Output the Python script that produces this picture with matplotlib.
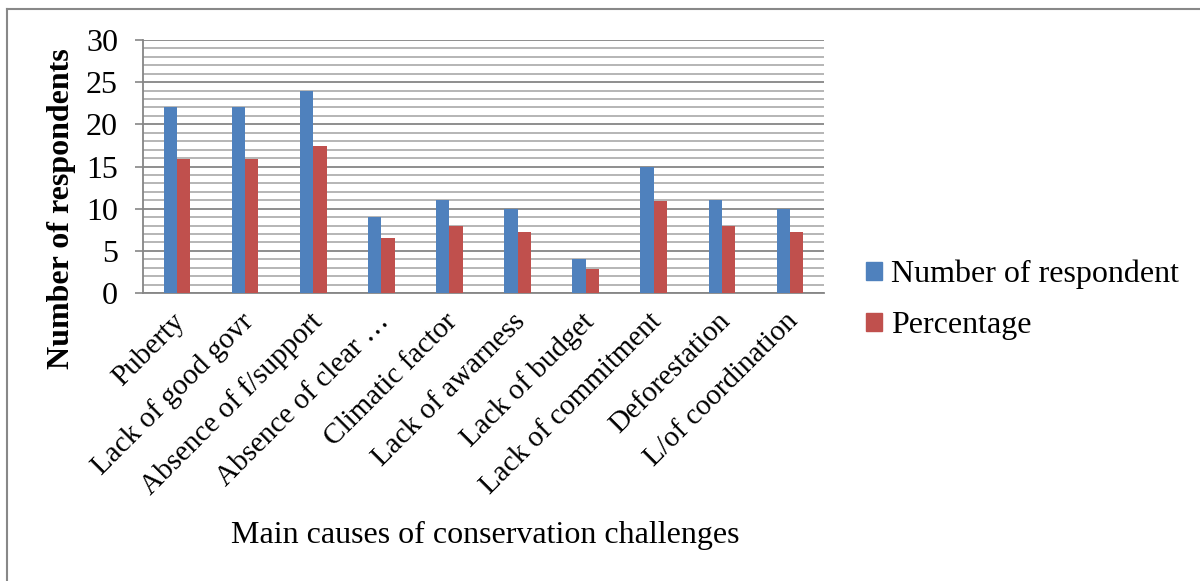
import matplotlib.pyplot as plt
import matplotlib.transforms as mtransforms
from matplotlib.patches import Patch
from matplotlib.lines import Line2D
import numpy as np

# data
causes = ['Puberty', 'Lack of good govr', 'Absence of f/support', 'Absence of clear \u2026',
          'Climatic factor', 'Lack of awarness', 'Lack of budget', 'Lack of commitment',
          'Deforestation', 'L/of coordination']
respondents = [22, 22, 24, 9, 11, 10, 4, 15, 11, 10]
percentage = [15.9, 15.9, 17.4, 6.5, 8.0, 7.2, 2.9, 10.9, 8.0, 7.2]

blue = '#4F81BD'
red = '#C0504D'

plt.rcParams['font.family'] = ['Liberation Serif', 'DejaVu Serif']

fig = plt.figure(figsize=(12, 5.81), dpi=100)
ax = fig.add_axes([143/1200, 1-293/581, (824-143)/1200, (293-40)/581])

x = np.arange(len(causes))
w = 0.195
ax.bar(x - w/2, respondents, w, color=blue, zorder=3)
ax.bar(x + w/2, percentage, w, color=red, zorder=3)

ax.set_xlim(-0.5, len(causes) - 0.5)
ax.set_ylim(0, 30)
ax.set_yticks(range(0, 31, 5))
ax.set_yticks([v for v in range(0, 31) if v % 5], minor=True)
ax.grid(axis='y', which='major', color='#868686', lw=1.3, zorder=0)
ax.grid(axis='y', which='minor', color='#b0b0b0', lw=1.3, zorder=0)
ax.tick_params(axis='y', which='major', length=6, width=1.2, color='#868686',
               labelsize=23, pad=12)
ax.tick_params(axis='y', which='minor', length=0)
ax.tick_params(axis='x', length=0, pad=11)
ax.set_xticks(x)
ax.set_xticklabels(causes, rotation=45, ha='right', va='top', rotation_mode='anchor',
                   fontsize=21)
shift = mtransforms.ScaledTranslation(-5/100, 0, fig.dpi_scale_trans)
for lbl in ax.get_xticklabels():
    lbl.set_transform(lbl.get_transform() + shift)

for s in ['top', 'right']:
    ax.spines[s].set_visible(False)
for s in ['left', 'bottom']:
    ax.spines[s].set_color('#868686')
    ax.spines[s].set_linewidth(1.3)

fig.text(62/1200, 1-209/581, 'Number of respondents', rotation=90, fontsize=23,
         fontweight='bold', ha='center', va='center')
fig.text(485/1200, 1-535/581, 'Main causes of conservation challenges', fontsize=23,
         ha='center', va='center')

handles = [Patch(color=blue), Patch(color=red)]
fig.legend(handles, ['Number of respondent', 'Percentage'], loc='center left',
           bbox_to_anchor=(837/1200, 1-300/581), frameon=False, fontsize=23,
           handlelength=0.5, handleheight=0.5, handletextpad=0.3, labelspacing=0.7)

# outer frame (only top and left edges visible)
fig.add_artist(Line2D([7/1200, 1], [1-9/581, 1-9/581], color='#888888', lw=1.5))
fig.add_artist(Line2D([7/1200, 7/1200], [0, 1-9/581], color='#888888', lw=1.5))

fig.savefig('out.png', dpi=100)
